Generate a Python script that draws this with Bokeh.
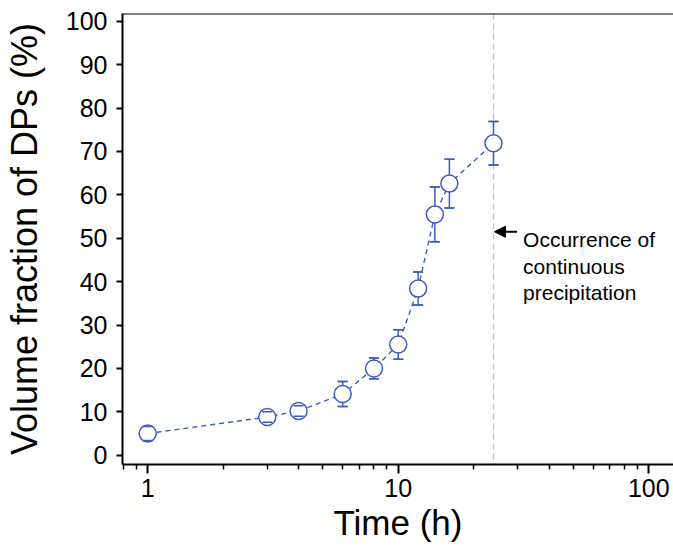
from bokeh.plotting import figure
from bokeh.models import (Range1d, FixedTicker, CustomJSTickFormatter, Whisker, TeeHead,
                          ColumnDataSource, Span, Arrow, NormalHead, Label)
from bokeh.embed import file_html
from bokeh.resources import INLINE

# ---- data ----
time_h = [1, 3, 4, 6, 8, 10, 12, 14, 16, 24]
fraction = [5.0, 8.8, 10.2, 14.1, 20.0, 25.5, 38.4, 55.5, 62.6, 71.9]
error = [1.6, 1.2, 1.2, 2.9, 2.4, 3.4, 3.8, 6.3, 5.6, 5.0]
x_ticks = [1, 10, 100]
y_ticks = [0, 10, 20, 30, 40, 50, 60, 70, 80, 90, 100]
transition_time = 24
note_lines = ["Occurrence of", "continuous", "precipitation"]

BLUE = "#3d5bc0"
FONT = "Liberation Sans"

x_lo, x_hi = 0.793, 125.5
y_lo, y_hi = -2.14, 101.8

src = ColumnDataSource(dict(
    x=time_h, y=fraction,
    lower=[f - e for f, e in zip(fraction, error)],
    upper=[f + e for f, e in zip(fraction, error)],
))

p = figure(width=673, height=550, x_axis_type="log",
           x_range=Range1d(x_lo, x_hi), y_range=Range1d(y_lo, y_hi),
           output_backend="svg", toolbar_location=None,
           min_border_left=122, min_border_right=0, min_border_top=13, min_border_bottom=86)
p.outline_line_color = None
p.grid.visible = False
p.background_fill_color = "white"
p.border_fill_color = "white"

# axes
minor = [m * d for d in (0.1, 1, 10, 100) for m in range(2, 10)]
minor = [v for v in minor if x_lo <= v <= x_hi]
p.xaxis.ticker = FixedTicker(ticks=x_ticks, minor_ticks=minor)
p.xaxis.formatter = CustomJSTickFormatter(code="return String(tick);")
p.yaxis.ticker = FixedTicker(ticks=y_ticks)

for ax in (p.xaxis, p.yaxis):
    ax.axis_line_width = 2
    ax.axis_line_color = "black"
    ax.major_tick_line_width = 2
    ax.major_tick_line_color = "black"
    ax.major_tick_in = 0
    ax.minor_tick_in = 0
    ax.minor_tick_line_width = 1.5
    ax.minor_tick_line_color = "black"
    ax.major_label_text_font = FONT
    ax.major_label_text_font_size = "25px"
    ax.major_label_text_color = "black"
    ax.axis_label_text_font = FONT
    ax.axis_label_text_font_style = "normal"
    ax.axis_label_text_color = "black"

p.xaxis.major_tick_out = 9
p.xaxis.minor_tick_out = 5
p.xaxis.major_label_standoff = 5
p.xaxis.axis_label = "Time (h)"
p.xaxis.axis_label_text_font_size = "35px"
p.xaxis.axis_label_standoff = 3

p.yaxis.major_tick_out = 6
p.yaxis.minor_tick_line_color = None
p.yaxis.major_label_standoff = 9
p.yaxis.axis_label = "Volume fraction of DPs (%)"
p.yaxis.axis_label_text_font_size = "36px"
p.yaxis.axis_label_standoff = 18

# top border
p.add_layout(Span(location=y_hi, dimension="width", line_color="black", line_width=2))

# vertical marker of continuous precipitation
p.add_layout(Span(location=transition_time, dimension="height", line_color="#c4c4c4",
                  line_width=1.3, line_dash="6 4", level="underlay"))

# connecting dashed line
p.line("x", "y", source=src, line_color=BLUE, line_width=1.4, line_dash="5 4")

# error bars (under markers)
p.add_layout(Whisker(base="x", lower="lower", upper="upper", source=src,
                     line_color=BLUE, line_width=1.5,
                     upper_head=TeeHead(size=10, line_color=BLUE, line_width=1.5),
                     lower_head=TeeHead(size=10, line_color=BLUE, line_width=1.5),
                     level="underlay"))

# markers
p.scatter("x", "y", source=src, marker="circle", size=17, fill_color="white",
          line_color=BLUE, line_width=1.5)

# caps on top of markers (visible for small errors)
p.add_layout(Whisker(base="x", lower="lower", upper="upper", source=src,
                     line_alpha=0,
                     upper_head=TeeHead(size=10, line_color=BLUE, line_width=1.5),
                     lower_head=TeeHead(size=10, line_color=BLUE, line_width=1.5),
                     level="annotation"))

# annotation arrow and text
p.add_layout(Arrow(end=NormalHead(size=11, fill_color="black", line_color="black"),
                   x_start=29.8, y_start=51.5, x_end=24.2, y_end=51.5,
                   line_color="black", line_width=1.8))
for txt, yy in zip(note_lines, [49.8, 43.6, 37.6]):
    p.add_layout(Label(x=31.5, y=yy, text=txt, text_font=FONT, text_font_size="21px",
                       text_color="black", text_baseline="alphabetic"))

open("out.html", "w").write(file_html(p, INLINE))
